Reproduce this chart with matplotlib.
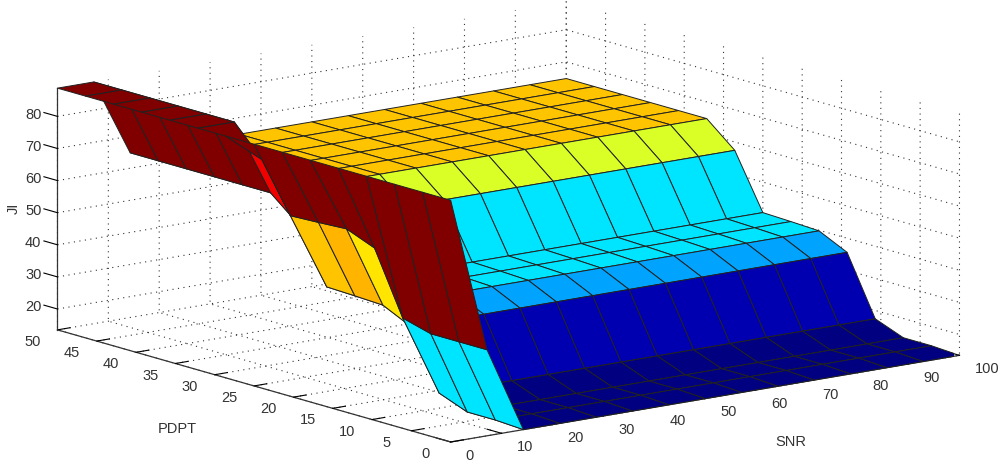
import numpy as np
import matplotlib
matplotlib.use("Agg")
import matplotlib.pyplot as plt
from matplotlib.colors import Normalize, LinearSegmentedColormap
from matplotlib.transforms import Affine2D

snr = [0, 7.14, 14.29, 21.43, 28.57, 35.71, 42.86, 50, 57.14, 64.29, 71.43, 78.57, 85.71, 92.86, 100]
pdpt = [0, 3.57, 7.14, 10.71, 14.29, 17.86, 21.43, 25, 28.57, 32.14, 35.71, 39.29, 42.86, 46.43, 50]

# JI along PDPT for each SNR group
ji_snr_0 = [88.8, 88.8, 88.8, 88.8, 88.8, 88.8, 88.8, 88.8, 88.8, 88.8, 88.8, 88.8, 88.8, 88.8, 88.8]
ji_snr_7 = [40.3, 40.3, 40.3, 42.7, 62.0, 65.5, 65.0, 64.6, 79.5, 88.8, 88.8, 88.8, 88.8, 88.8, 88.8]
ji_snr_rest = [13.5, 14.0, 14.0, 17.4, 35.6, 39.8, 40.2, 40.5, 57.4, 64.8, 64.8, 64.8, 64.8, 64.8, 64.8]

snr_ticks = [0, 10, 20, 30, 40, 50, 60, 70, 80, 90, 100]
pdpt_ticks = [0, 5, 10, 15, 20, 25, 30, 35, 40, 45, 50]
ji_ticks = [20, 30, 40, 50, 60, 70, 80]
ji_limits = (13.5, 88.8)

plt.rcParams["font.family"] = ["Liberation Sans Narrow", "Liberation Sans", "DejaVu Sans"]
plt.rcParams["grid.linestyle"] = (0, (1, 4))
plt.rcParams["grid.color"] = "#333333"
plt.rcParams["grid.linewidth"] = 0.8

# MATLAB's jet differs a little from matplotlib's
matlab_jet = LinearSegmentedColormap.from_list(
    "matlab_jet",
    [(0, (0, 0, 0.5)), (1 / 8, (0, 0, 1)), (3 / 8, (0, 1, 1)),
     (5 / 8, (1, 1, 0)), (7 / 8, (1, 0, 0)), (1, (0.5, 0, 0))],
    N=64,
)

fig = plt.figure(figsize=(10, 4.69), dpi=100)
L = 915.0
ax = fig.add_axes([38.6 / 1000, -222.6 / 469, L / 1000, L / 469],
                  projection="3d", proj_type="ortho")
ax.patch.set_alpha(0)
ax.view_init(elev=12.73, azim=-127.7)
ax.set_box_aspect((1, 1, 0.3854))

X, Y = np.meshgrid(snr, pdpt)
Z = np.column_stack([ji_snr_0, ji_snr_7] + [ji_snr_rest] * (len(snr) - 2))
colors = matlab_jet(Normalize(*ji_limits)(Z))
surf = ax.plot_surface(X, Y, Z, facecolors=colors, rstride=1, cstride=1,
                       shade=False, linewidth=0.7, antialiased=True)
surf.set_edgecolor((0.13, 0.13, 0.13, 1))

ax.set_xlim(0, 100, view_margin=0)
ax.set_ylim(0, 50, view_margin=0)
ax.set_zlim(*ji_limits, view_margin=0)
ax.set_xticks(snr_ticks)
ax.set_yticks(pdpt_ticks)
ax.set_zticks(ji_ticks)
ax.zaxis._get_tickdir = lambda position: 1  # z ticks run along PDPT

tick_factor = {"x": 0.46, "y": 0.31, "z": 0.43}
for name, axis in (("x", ax.xaxis), ("y", ax.yaxis), ("z", ax.zaxis)):
    axis.set_pane_color((1, 1, 1, 0))
    axis.pane.set_edgecolor((1, 1, 1, 0))
    axis.line.set_color("#333333")
    axis.line.set_linewidth(0.9)
    axis._axinfo["tick"].update(inward_factor=0.0, outward_factor=tick_factor[name])
    axis._axinfo["tick"]["linewidth"] = {True: 0.8, False: 0.8}
    axis._axinfo["tick"]["color"] = "#333333"

ax.tick_params(labelsize=10.5, labelcolor="#333333", pad=2)
ax.set_xlabel("SNR", fontsize=10.5, color="#333333", labelpad=12)
ax.set_ylabel("PDPT", fontsize=10.5, color="#333333", labelpad=12)
ax.set_zlabel("JI", fontsize=10.5, color="#333333", labelpad=2, rotation=90)


def shift_tick_labels(axis, dx, dy, ha):
    original = axis.get_major_ticks

    def patched(numticks=None):
        ticks = original(numticks)
        for t in ticks:
            t.label1.set_transform(ax.transData + Affine2D().translate(dx, dy))
            t.label1.set_ha(ha)
        return ticks

    axis.get_major_ticks = patched


def shift_axis_label(axis, dx, dy):
    label = axis.label
    original = label.draw
    state = {"dx": dx, "dy": dy}

    def draw(renderer):
        label._transform = ax.transData + Affine2D().translate(state["dx"], state["dy"])
        original(renderer)

    label.draw = draw
    return state


shift_tick_labels(ax.xaxis, 3.5, 3.5, "left")
shift_tick_labels(ax.yaxis, -10, 4.5, "center")
shift_tick_labels(ax.zaxis, 2, 8, "center")
shift_axis_label(ax.xaxis, 48, -9)
shift_axis_label(ax.yaxis, -28, -11)
ji_state = shift_axis_label(ax.zaxis, 0, 0)

# Place the JI label where the reference has it, whatever its automatic position is
fig.canvas.draw()
box = ax.zaxis.label.get_window_extent()
ji_state["dx"] = 14 - (box.x0 + box.x1) / 2
ji_state["dy"] = (469 - 208) - (box.y0 + box.y1) / 2

fig.savefig("out.png", dpi=100, facecolor="white")
